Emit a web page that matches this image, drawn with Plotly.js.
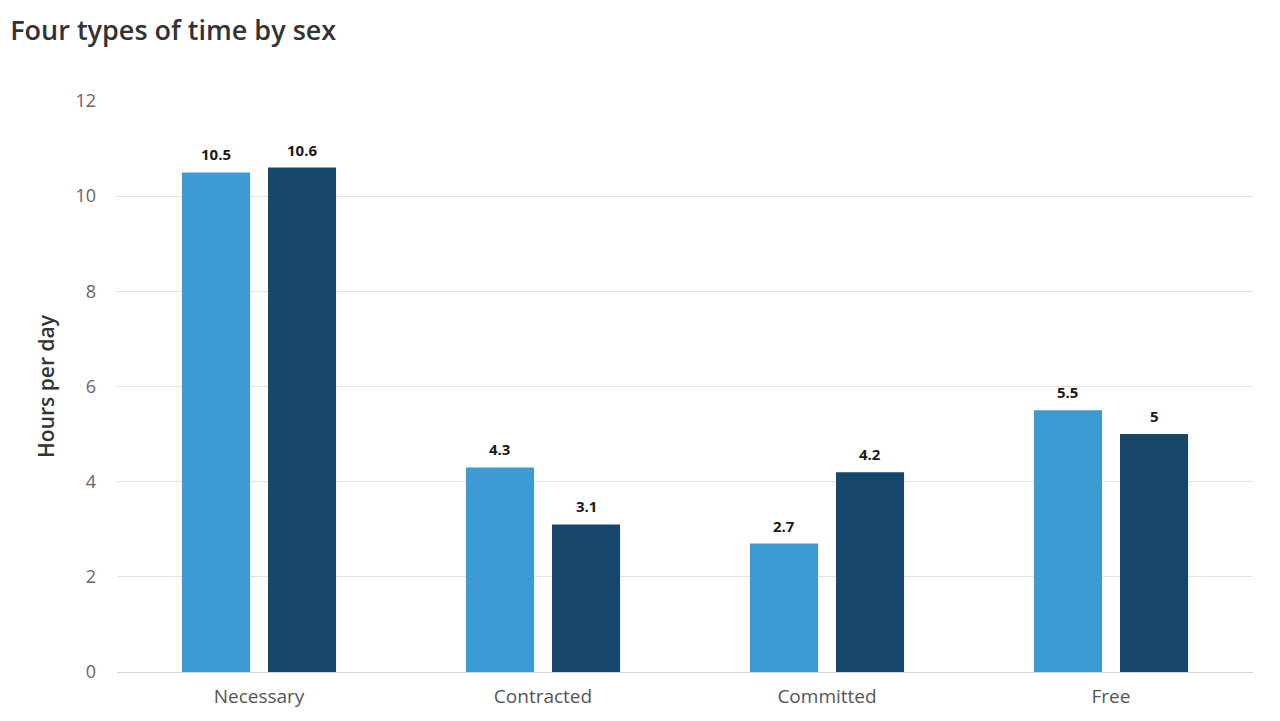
<!DOCTYPE html>
<html>
<head>
<meta charset="utf-8">
<script src="https://cdn.plot.ly/plotly-3.0.1.min.js"></script>
<style>html,body{margin:0;padding:0;background:#fff;}#chart{width:1280px;height:721px;}</style>
</head>
<body>
<div id="chart"></div>
<script>
const categories = ["Necessary", "Contracted", "Committed", "Free"];
const seriesNames = ["Women", "Men"];
const womenValues = [10.5, 4.3, 2.7, 5.5];
const menValues = [10.6, 3.1, 4.2, 5];
const yTicks = [0, 2, 4, 6, 8, 10, 12];

const font = "'Open Sans', 'Noto Sans', sans-serif";
const bargap = 0.394;
const mk = (name, vals, color) => ({
  type: "bar", name: name, x: categories, y: vals,
  marker: {color: color},
  hoverinfo: "x+y+name"
});
const data = [mk(seriesNames[0], womenValues, "#3c9bd2"), mk(seriesNames[1], menValues, "#16476b")];
const slot = (1 - bargap) / 2;
const annotations = [];
[womenValues, menValues].forEach((vals, s) => {
  vals.forEach((v, i) => {
    annotations.push({
      x: i + (s === 0 ? -slot / 2 : slot / 2), y: v, xref: "x", yref: "y",
      text: String(v), showarrow: false, yanchor: "bottom", yshift: 6,
      font: {family: font, size: 15, color: "#1a1a1a", weight: "bold"}
    });
  });
});
const layout = {
  width: 1280, height: 721,
  margin: {l: 117, r: 27, t: 101, b: 49},
  paper_bgcolor: "#fff", plot_bgcolor: "#fff",
  showlegend: false,
  bargap: bargap, bargroupgap: 0.209,
  annotations: annotations,
  title: {text: "Four types of time by sex", x: 0.008, xanchor: "left", y: 0.958, yanchor: "middle",
          font: {family: font, size: 27, color: "#333", weight: 600}},
  xaxis: {tickfont: {family: font, size: 19, color: "#555"}, showline: false, ticks: "", showgrid: false,
          ticklabelstandoff: 11},
  yaxis: {range: [0, 12], tickvals: yTicks, ticktext: yTicks.map(String),
          tickfont: {family: font, size: 18, color: "#666"}, gridcolor: "#e3e3e3", zeroline: true, zerolinecolor: "#d5d5d5",
          ticklabelstandoff: 20,
          title: {text: "Hours per day", font: {family: font, size: 21, color: "#333", weight: 600}, standoff: 15}},
  font: {family: font}
};
Plotly.newPlot("chart", data, layout, {displayModeBar: false, staticPlot: true});
</script>
</body>
</html>
